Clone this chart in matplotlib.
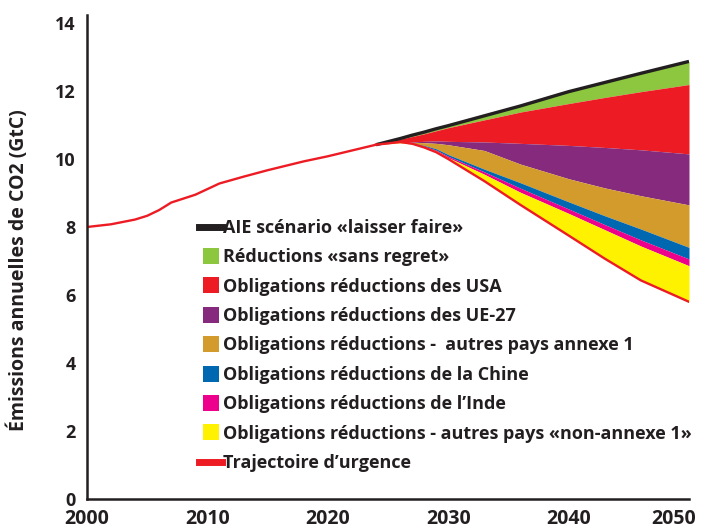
import matplotlib
matplotlib.use("Agg")
import matplotlib.pyplot as plt
from matplotlib.lines import Line2D
from matplotlib.transforms import ScaledTranslation

# historical emissions (GtC)
annees_hist = [2000, 2002, 2004, 2005, 2006, 2007, 2009, 2011, 2013, 2015, 2018, 2020, 2022, 2024]
emis_hist = [8.0, 8.08, 8.22, 8.33, 8.5, 8.72, 8.95, 9.28, 9.48, 9.67, 9.93, 10.08, 10.25, 10.42]

# projections: trajectory after each successive reduction
annees_proj = [2024, 2026, 2027, 2028, 2029, 2030, 2033, 2036, 2040, 2043, 2046, 2050]
aie = [10.42, 10.6, 10.7, 10.79, 10.89, 10.98, 11.27, 11.56, 11.98, 12.25, 12.52, 12.87]
apres_sans_regret = [10.42, 10.58, 10.66, 10.74, 10.83, 10.92, 11.15, 11.38, 11.63, 11.81, 11.98, 12.19]
apres_usa = [10.42, 10.48, 10.5, 10.52, 10.53, 10.52, 10.5, 10.46, 10.4, 10.34, 10.27, 10.15]
apres_ue27 = [10.42, 10.48, 10.49, 10.48, 10.46, 10.42, 10.25, 9.85, 9.42, 9.15, 8.92, 8.65]
apres_annexe1 = [10.42, 10.48, 10.46, 10.4, 10.3, 10.13, 9.7, 9.3, 8.74, 8.33, 7.94, 7.4]
apres_chine = [10.42, 10.48, 10.45, 10.38, 10.26, 10.08, 9.62, 9.14, 8.53, 8.07, 7.62, 7.06]
apres_inde = [10.42, 10.48, 10.44, 10.36, 10.24, 10.04, 9.55, 9.02, 8.4, 7.92, 7.44, 6.86]
urgence = [10.42, 10.5, 10.45, 10.34, 10.2, 10.0, 9.35, 8.65, 7.75, 7.07, 6.43, 5.8]

x_ticks = [2000, 2010, 2020, 2030, 2040, 2050]
y_ticks = [0, 2, 4, 6, 8, 10, 12, 14]

noir = "#231f20"
couleurs = ["#8dc63f", "#ed1c24", "#862a7e", "#d29b2c", "#0067b1", "#ec008c", "#fff200"]
labels = [
    "Réductions «sans regret»",
    "Obligations réductions des USA",
    "Obligations réductions des UE-27",
    "Obligations réductions -  autres pays annexe 1",
    "Obligations réductions de la Chine",
    "Obligations réductions de l’Inde",
    "Obligations réductions - autres pays «non-annexe 1»",
]

plt.rcParams["font.family"] = ["Open Sans", "DejaVu Sans"]
plt.rcParams["font.weight"] = "bold"

fig = plt.figure(figsize=(7.02, 5.29), dpi=100)
ax = fig.add_axes([87 / 702, 1 - 499 / 529, 602 / 702, 484 / 529])

bornes = [aie, apres_sans_regret, apres_usa, apres_ue27, apres_annexe1,
          apres_chine, apres_inde, urgence]
for i, c in enumerate(couleurs):
    ax.fill_between(annees_proj, bornes[i], bornes[i + 1], color=c, lw=0)

ax.plot(annees_proj, aie, color=noir, lw=2.4, solid_capstyle="butt")
ax.plot(annees_hist, emis_hist, color="#ed1c24", lw=1.7)
ax.plot(annees_proj, urgence, color="#ed1c24", lw=1.7)

ax.set_xlim(2000, 2050)
ax.set_ylim(0, 484 / 34)
ax.set_xticks(x_ticks)
ax.set_yticks(y_ticks)
ax.tick_params(length=0, labelsize=13, colors=noir, pad=8)
ax.tick_params(axis="x", labelsize=14, pad=7)
for t in ax.get_xticklabels() + ax.get_yticklabels():
    t.set_fontweight("bold")
for s in ["top", "right"]:
    ax.spines[s].set_visible(False)
for s in ["left", "bottom"]:
    ax.spines[s].set_linewidth(1.8)
    ax.spines[s].set_color(noir)

last = ax.get_xticklabels()[-1]
last.set_transform(last.get_transform() + ScaledTranslation(-0.15, 0, fig.dpi_scale_trans))

fig.text(18 / 702, 1 - 270 / 529, "Émissions annuelles de CO2 (GtC)", rotation=90,
         ha="center", va="center", fontsize=14, fontweight="bold", color=noir)

handles = [Line2D([], [], color=noir, lw=5)]
for c in couleurs:
    handles.append(Line2D([], [], marker="s", ls="none", markersize=12,
                          markerfacecolor=c, markeredgewidth=0))
handles.append(Line2D([], [], color="#ed1c24", lw=5))
leg = ax.legend(handles, ["AIE scénario «laisser faire»"] + labels + ["Trajectoire d’urgence"],
                loc="upper left", bbox_to_anchor=(199 / 702, 1 - 219 / 529),
                bbox_transform=fig.transFigure, frameon=False,
                prop={"size": 13, "weight": "bold"},
                handlelength=1.3, handletextpad=0.05, labelspacing=0.63,
                borderpad=0, borderaxespad=0)
for t in leg.get_texts():
    t.set_color(noir)

fig.savefig("out.png", dpi=100)
